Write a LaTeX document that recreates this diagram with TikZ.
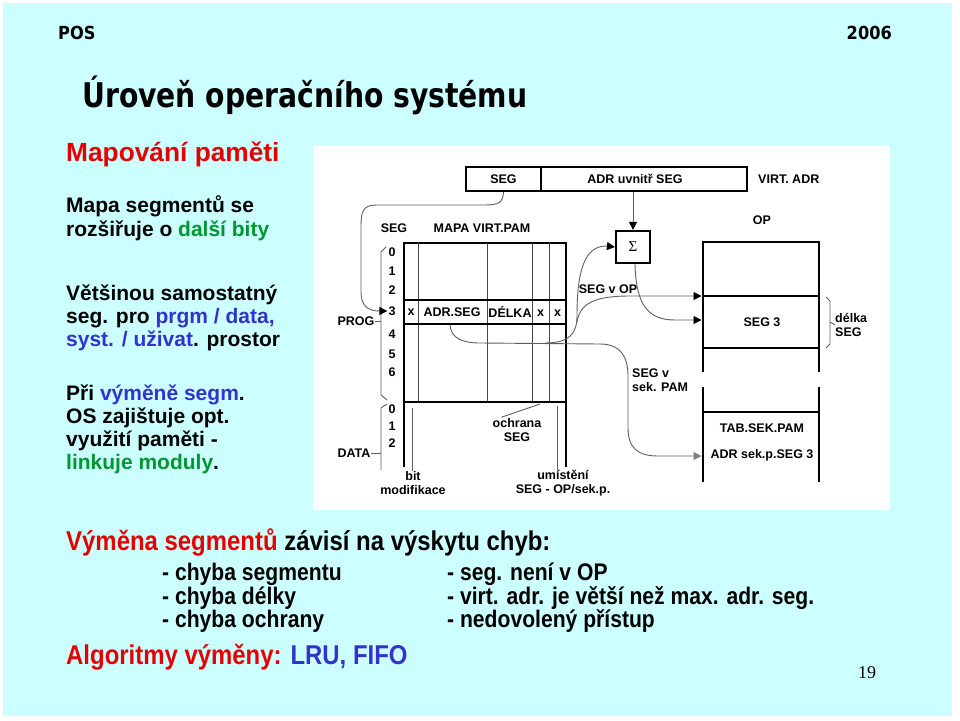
\documentclass[tikz,border=0pt]{standalone}
\usepackage{fontspec}
\setmainfont{Liberation Sans}
\newfontfamily\hdfont[FakeStretch=0.9]{DejaVu Sans}
\newfontfamily\titlefont[FakeStretch=0.83]{DejaVu Sans}
\newfontfamily\narrowfont[FakeStretch=0.88]{Liberation Sans}
\newfontfamily\seriffont{Liberation Serif}
\usetikzlibrary{arrows.meta}
\definecolor{bgcyan}{RGB}{204,255,255}
\definecolor{tred}{RGB}{228,0,0}
\definecolor{tblue}{RGB}{51,51,204}
\definecolor{tgreen}{RGB}{0,150,50}
\definecolor{cgray}{RGB}{95,95,95}
\definecolor{tgray}{RGB}{70,70,70}
\def\dgfont{\bfseries\fontsize{12.5}{14}\selectfont}
\tikzset{
  lbl/.style={font=\dgfont, inner sep=0pt},
  body/.style={font=\bfseries\fontsize{21}{24}\selectfont, inner sep=0pt, anchor=base west},
  low/.style={font=\narrowfont\bfseries\fontsize{24}{26}\selectfont, inner sep=0pt, anchor=base west},
  lowhead/.style={font=\narrowfont\bfseries\fontsize{27.2}{30}\selectfont, inner sep=0pt, anchor=base west},
  hdr/.style={font=\hdfont\bfseries\fontsize{18}{20}\selectfont, inner sep=0pt},
  box/.style={draw, line width=2.2pt, inner sep=0pt, font=\dgfont},
  thickline/.style={line width=2.6pt},
  midline/.style={line width=1.4pt},
  tline/.style={line width=0.8pt, draw=tgray},
  conn/.style={line width=0.9pt, draw=cgray},
  blackarrow/.style={-{Triangle[length=8pt,width=8pt,color=black]}},
  grayarrow/.style={-{Triangle[length=8pt,width=8pt,color=gray]}},
}
\begin{document}
\begin{tikzpicture}[x=1pt,y=-1pt]
\useasboundingbox (0,0) rectangle (960,720);
\fill[white] (0,0) rectangle (960,720);
\fill[bgcyan] (3,3) rectangle (952,716);

% header
\node[hdr, anchor=base west] (pos) at (58,39.5) {POS};
\node[hdr, anchor=base east] (year) at (892,39.5) {2006};
\node[font=\titlefont\bfseries\fontsize{34}{36}\selectfont, inner sep=0pt, anchor=base west] (title) at (82,107) {Úroveň operačního systému};

% left column
\node[body, font=\bfseries\fontsize{26.3}{28}\selectfont, text=tred] (m1) at (66,161) {Mapování paměti};
\node[body] (l1) at (66,212) {Mapa segmentů se};
\node[body] (l2) at (66,236) {rozšiřuje o \textcolor{tgreen}{další bity}};
\node[body] (l3) at (66,300) {Většinou samostatný};
\node[body] (l4) at (66,323) {seg. pro \textcolor{tblue}{prgm / data,}};
\node[body] (l5) at (66,346) {\textcolor{tblue}{syst. / uživat}. prostor};
\node[body] (l6) at (66,400) {Při \textcolor{tblue}{výměně segm}.};
\node[body] (l7) at (66,423) {OS zajištuje opt.};
\node[body] (l8) at (66,446) {využití paměti -};
\node[body] (l9) at (66,469) {\textcolor{tgreen}{linkuje moduly}.};

% diagram panel
\fill[white] (313,146) rectangle (890,510);

% virtual address
\node[box, minimum width=75, minimum height=24] (vseg) at (503.5,179) {SEG};
\node[box, minimum width=206, minimum height=24] (vadr) at (644,179) {};
\node[lbl] (vadrt) at (635,179) {ADR uvnitř SEG};
\node[lbl, anchor=west] (virt) at (758,179) {VIRT. ADR};

% sigma
\node[box, minimum width=34, minimum height=32, font=\seriffont\fontsize{15}{15}\selectfont] (sigma) at (633,247) {Σ};

% map table
\node[lbl] (hseg) at (394,228) {SEG};
\node[lbl] (hmap) at (482,228) {MAPA VIRT.PAM};
\draw[thickline] (404,467) -- (404,243) -- (566,243) -- (566,467);
\foreach \x in {418,487,532,549} \draw[tline] (\x,243) -- (\x,402);
\draw[midline] (404,300) -- (566,300);
\draw[midline] (404,324) -- (566,324);
\draw[midline] (404,402) -- (566,402);
\node[lbl] (rx1) at (411,312.5) {x};
\node[lbl] (radr) at (452,312) {ADR.SEG};
\node[lbl] (rdel) at (510,312) {DÉLKA};
\node[lbl] (rx2) at (540.5,313.5) {x};
\node[lbl] (rx3) at (557.5,313.5) {x};

% numbers
\node[lbl] (n0) at (392,252) {0};
\node[lbl] (n1) at (392,271) {1};
\node[lbl] (n2) at (392,290) {2};
\node[lbl] (n3) at (392,311) {3};
\node[lbl] (n4) at (392,334) {4};
\node[lbl] (n5) at (392,354) {5};
\node[lbl] (n6) at (392,372) {6};
\node[lbl] (d0) at (392,409) {0};
\node[lbl] (d1) at (392,426) {1};
\node[lbl] (d2) at (392,443) {2};

% braces PROG / DATA
\node[lbl] (prog) at (356,321) {PROG};
\node[lbl] (data) at (354,453) {DATA};
\draw[conn] (386,247) -- (381,252) -- (381,395) -- (387,400);
\draw[conn] (prog.east) -- (381,321);
\draw[conn] (387,404) -- (381,408) -- (381,470);
\draw[conn] (data.east) -- (381,453);

% pointer labels
\node[lbl, align=center] (bitl) at (413,483) {bit\\modifikace};
\coordinate (bittop) at (412,408);
\draw[conn] (bittop) -- (bittop |- bitl.north);
\node[lbl, align=center] (ochr) at (517,430) {ochrana\\SEG};
\coordinate (ochrtop) at (540,404);
\draw[conn] ([xshift=9pt,yshift=1pt]ochr.north west) -- (ochrtop);
\node[lbl, align=center] (umist) at (563,483) {umístění\\SEG - OP/sek.p.};
\coordinate (umtop) at (557,406);
\draw[conn] (umtop) -- (umtop |- umist.north);

% OP
\node[lbl] (oplbl) at (762,220) {OP};
\draw[thickline] (703,372) -- (703,242) -- (819,242) -- (819,372);
\draw[midline] (703,296) -- (819,296);
\draw[midline] (703,348) -- (819,348);
\draw[thickline] (703,387) -- (703,482);
\draw[thickline] (819,387) -- (819,482);
\draw[midline] (703,412) -- (819,412);
\node[lbl] (seg3) at (762,322) {SEG 3};
\node[lbl] (tab) at (762,428) {TAB.SEK.PAM};
\node[lbl] (adrsek) at (762,455) {ADR sek.p.SEG 3};
\node[lbl, align=left, anchor=west] (delka) at (835,325) {délka\\SEG};
\draw[conn] (826,297) -- (830,301) -- (830,344) -- (826,348);
\draw[conn] (830,322) -- (delka.west);

\coordinate (opin1) at (701.5,296);
\coordinate (opin2) at (701.5,320);
\coordinate (tabin) at (701.5,456);

% connector labels
\node[lbl] (segvop) at (608,289) {SEG v OP};
\node[lbl, align=left, anchor=west] (segsek) at (632,380) {SEG v\\sek. PAM};

% connectors
\draw[conn, blackarrow, shorten >=1pt] (vseg.south) .. controls (503,203) and (498,205) .. (485,205) -- (376,205) .. controls (363,205) and (361,212) .. (361,226) -- (361,292) .. controls (361,306) and (368,311) .. (n3.west);
\draw[conn, blackarrow] (sigma.north |- vadr.south) -- (sigma.north);
\coordinate (adrout) at (450,325);
\draw[conn, grayarrow] (adrout) .. controls (451,338) and (462,343) .. (480,343) -- (600,344) .. controls (620,344) and (628,356) .. (628,376) -- (628,428) .. controls (628,448) and (638,456) .. (658,456) -- (tabin);
\draw[conn, blackarrow] (545,343) .. controls (570,343) and (577,333) .. (577,316) .. controls (577,275) and (583,246) .. (606,246) -- (sigma.west);
\draw[conn, blackarrow] (577,322) .. controls (580,303) and (595,296) .. (630,296) -- (opin1);
\draw[conn, blackarrow] ([xshift=2pt]sigma.south) .. controls (636,305) and (648,320) .. (675,320) -- (opin2);

% bottom text
\node[lowhead] (vym) at (66,550.7) {\textcolor{tred}{Výměna segmentů} závisí na výskytu chyb:};
\node[low] (c1) at (162,580.6) {- chyba segmentu};
\node[low] (c2) at (162,604.6) {- chyba délky};
\node[low] (c3) at (162,627.6) {- chyba ochrany};
\node[low] (e1) at (447,580.6) {- seg. není v OP};
\node[low] (e2) at (447,604.6) {- virt. adr. je větší než max. adr. seg.};
\node[low] (e3) at (447,627.6) {- nedovolený přístup};
\node[lowhead] (alg) at (66,664.7) {\textcolor{tred}{Algoritmy výměny:} \textcolor{tblue}{LRU, FIFO}};
\node[font=\seriffont\fontsize{18}{20}\selectfont, inner sep=0pt, anchor=base] (pg) at (867,678) {19};
\end{tikzpicture}
\end{document}
